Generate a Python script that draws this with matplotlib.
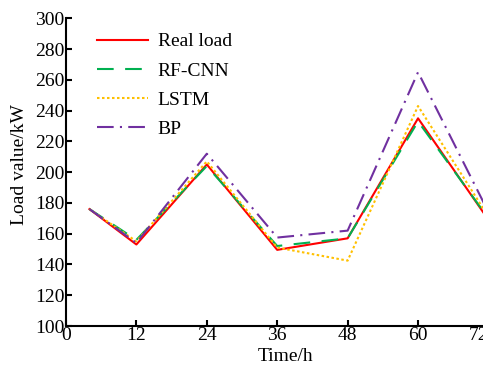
import numpy as np
import matplotlib.pyplot as plt
from matplotlib.transforms import ScaledTranslation

plt.rcParams['font.family'] = ['Liberation Serif', 'DejaVu Serif']
plt.rcParams['font.size'] = 14

# data
hours = [4, 12, 24, 36, 48, 60, 72]
real_load = [176, 153, 205, 149.5, 157, 235, 169]
rf_cnn = [176, 156, 204, 152, 157, 233, 170]
lstm = [176, 155, 207, 151, 142.5, 243, 171]
bp = [176, 154, 212, 157.5, 162, 265, 174]

xticks = [0, 12, 24, 36, 48, 60, 72]
yticks = np.arange(100, 301, 20)

fig = plt.figure(figsize=(4.83, 3.65), dpi=100)
ax = fig.add_axes([0.1366, 0.1068, 0.8747, 0.843])

ax.plot(hours, real_load, color='#FF0000', lw=1.5, label='Real load')
ax.plot(hours, rf_cnn, color='#00B050', lw=1.5, ls=(0, (8, 5.5)), label='RF-CNN')
ax.plot(hours, lstm, color='#FFC000', lw=1.5, ls=(0, (1.2, 1.2)), label='LSTM')
ax.plot(hours, bp, color='#7030A0', lw=1.5, ls=(0, (8, 3, 1, 3)), label='BP')

ax.set_xlim(0, 72)
ax.set_ylim(100, 300)
ax.set_xticks(xticks)
ax.set_yticks(yticks)
ax.tick_params(direction='in', length=4, width=1.5)
ax.tick_params(axis='x', pad=1)
ax.tick_params(axis='y', pad=1)

# last x label sits a bit to the left in the original
lab = ax.get_xticklabels()[-1]
lab.set_transform(lab.get_transform() + ScaledTranslation(-0.1, 0, fig.dpi_scale_trans))

for s in ['top', 'right']:
    ax.spines[s].set_visible(False)
for s in ['left', 'bottom']:
    ax.spines[s].set_linewidth(1.5)

ax.set_xlabel('Time/h')
ax.set_ylabel('Load value/kW')
ax.xaxis.set_label_coords(0.52, -0.072)
ax.yaxis.set_label_coords(-0.09, 0.525)

ax.legend(loc='upper left', bbox_to_anchor=(0.033, 1.01), frameon=False,
          handlelength=2.6, labelspacing=0.6, handletextpad=0.5)

plt.savefig('out.png', dpi=100)
